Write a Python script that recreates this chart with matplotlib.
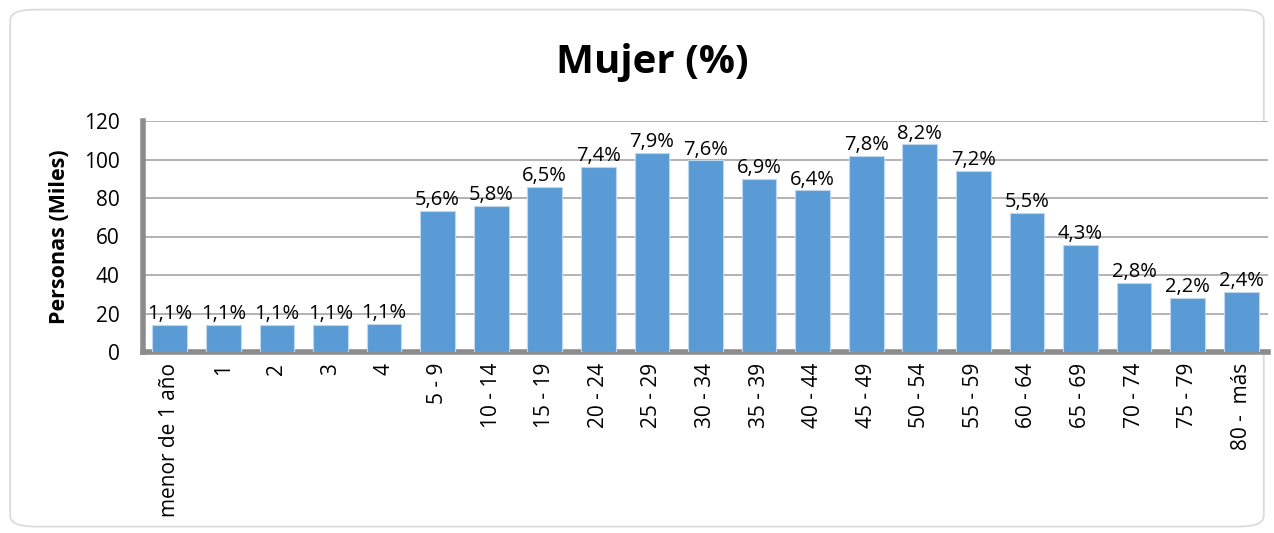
import matplotlib.pyplot as plt
from matplotlib.patches import FancyBboxPatch

plt.rcParams['font.family'] = ['Open Sans', 'DejaVu Sans']

categorias = ['menor de 1 año', '1', '2', '3', '4', '5 - 9', '10 - 14', '15 - 19',
              '20 - 24', '25 - 29', '30 - 34', '35 - 39', '40 - 44', '45 - 49',
              '50 - 54', '55 - 59', '60 - 64', '65 - 69', '70 - 74', '75 - 79', '80 -  más']
personas = [14.1, 14.1, 14.2, 14.2, 14.5, 73.2, 75.8, 85.5, 96.2, 103.6, 99.5,
            89.8, 83.9, 101.9, 107.8, 93.9, 72.2, 55.6, 36.1, 28.1, 31.1]
porcentajes = ['1,1%', '1,1%', '1,1%', '1,1%', '1,1%', '5,6%', '5,8%', '6,5%', '7,4%',
               '7,9%', '7,6%', '6,9%', '6,4%', '7,8%', '8,2%', '7,2%', '5,5%', '4,3%',
               '2,8%', '2,2%', '2,4%']

fig = plt.figure(figsize=(12.74, 5.33), dpi=100)
fig.patches.append(FancyBboxPatch((0.008, 0.012), 0.984, 0.97,
                                  boxstyle='round,pad=0,rounding_size=0.02',
                                  transform=fig.transFigure, facecolor='white',
                                  edgecolor='#d9d9d9', linewidth=1.2, zorder=-1))

ax = fig.add_axes([143 / 1274, 1 - 352 / 533, (1268 - 143) / 1274, (352 - 121) / 533])
x = range(len(categorias))
bars = ax.bar(x, personas, width=0.65, color='#5b9bd5', edgecolor='#bdd7ee', linewidth=0.8, zorder=3)
for b, t in zip(bars, porcentajes):
    ax.text(b.get_x() + b.get_width() / 2, b.get_height() + 0.5, t,
            ha='center', va='bottom', fontsize=14.5, zorder=4)

ax.set_xlim(-0.5, len(categorias) - 0.5)
ax.set_ylim(0, 120)
ax.set_yticks(range(0, 121, 20))
ax.set_xticks(list(x))
ax.set_xticklabels(categorias, rotation=90, fontsize=15)
ax.tick_params(axis='y', labelsize=15, length=0, pad=17)
ax.tick_params(axis='x', length=0, pad=8)
ax.yaxis.grid(True, color='#a6a6a6', linewidth=1.2, zorder=0)
ax.set_axisbelow(True)
for s in ['top', 'right']:
    ax.spines[s].set_visible(False)
ax.spines['left'].set_color('#8c8c8c')
ax.spines['left'].set_linewidth(4)
ax.spines['bottom'].set_color('#8c8c8c')
ax.spines['bottom'].set_linewidth(4)
ax.set_ylabel('Personas (Miles)', fontsize=15.5, fontweight='bold', labelpad=10)

fig.text(0.512, 0.882, 'Mujer (%)', ha='center', va='center', fontsize=29, fontweight='bold')

fig.savefig('out.png', dpi=100)
